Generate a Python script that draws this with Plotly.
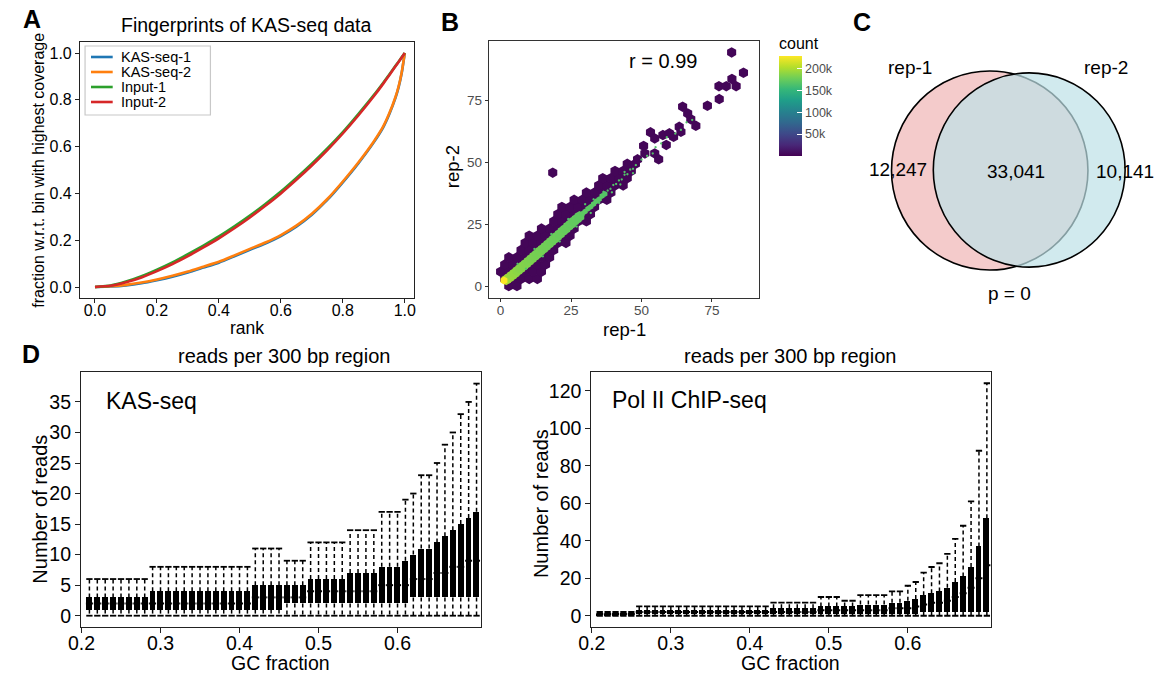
import math
import plotly.graph_objects as go

W, H = 1162, 674
FONT = "Liberation Sans, Arial, sans-serif"


def px_x(p):
    return p / W


def px_y(p):
    return 1 - p / H


# ---------------- Panel A : fingerprint curves ----------------
rank = [0.0, 0.05, 0.1, 0.15, 0.2, 0.25, 0.3, 0.35, 0.4, 0.45, 0.5, 0.55, 0.6, 0.65,
        0.7, 0.75, 0.8, 0.85, 0.9, 0.93, 0.95, 0.97, 0.98, 0.99, 1.0]
kas_seq_1 = [0.0, 0.002, 0.007, 0.016, 0.029, 0.044, 0.062, 0.083, 0.104, 0.131, 0.159, 0.186, 0.218,
             0.258, 0.309, 0.372, 0.447, 0.528, 0.618, 0.681, 0.738, 0.808, 0.853, 0.913, 1.0]
kas_seq_2 = [0.0, 0.003, 0.009, 0.019, 0.032, 0.048, 0.066, 0.087, 0.108, 0.135, 0.163, 0.19, 0.222,
             0.262, 0.313, 0.376, 0.451, 0.532, 0.622, 0.685, 0.742, 0.812, 0.857, 0.917, 1.0]
input_1 = [0.0, 0.006, 0.023, 0.046, 0.074, 0.105, 0.14, 0.177, 0.216, 0.259, 0.305, 0.355, 0.408,
           0.466, 0.527, 0.592, 0.662, 0.739, 0.82, 0.872, 0.908, 0.945, 0.963, 0.982, 1.0]
input_2 = [0.0, 0.005, 0.02, 0.041, 0.068, 0.098, 0.132, 0.169, 0.208, 0.251, 0.297, 0.347, 0.4,
           0.458, 0.519, 0.585, 0.656, 0.733, 0.815, 0.868, 0.905, 0.943, 0.962, 0.981, 1.0]
fp_names = ["KAS-seq-1", "KAS-seq-2", "Input-1", "Input-2"]
fp_colors = ["#1f77b4", "#ff7f0e", "#2ca02c", "#d62728"]

# ---------------- Panel B : hexbin rep-1 vs rep-2 ----------------
hex_rep1 = [2.9, 5.8,
            1.45, 4.35, 7.25, 10.15, 13.05,
            0, 2.9, 5.8, 8.7, 11.6, 14.5,
            1.45, 4.35, 7.25, 10.15, 13.05, 15.95,
            2.9, 5.8, 8.7, 11.6, 14.5, 17.4,
            7.25, 10.15, 13.05, 15.95, 18.85,
            8.7, 11.6, 14.5, 17.4, 20.3, 23.2,
            10.15, 13.05, 15.95, 18.85, 21.75, 24.65,
            14.5, 17.4, 20.3, 23.2, 26.1,
            18.85, 21.75, 24.65, 27.55, 30.45,
            20.3, 23.2, 26.1, 29.0, 31.9,
            21.75, 24.65, 27.55, 30.45, 33.35,
            26.1, 29.0, 31.9, 34.8, 37.7,
            30.45, 33.35, 36.25, 39.15,
            34.8, 37.7, 40.6, 43.5,
            36.25, 39.15, 42.05, 44.95,
            18.5, 40.6, 43.5, 46.4,
            44.95, 47.85,
            48.6, 51.2, 54.7, 56.1,
            50.75, 58.8,
            53.2, 54.7, 57.6, 59.9, 61.4,
            63.4, 64.0, 69.3,
            67.5, 66.4, 64.6, 73.4, 77.6,
            77.5, 80.1, 83.6, 82.1, 86.2, 82.0]
hex_rep2 = [0, 0,
            2.9, 2.9, 2.9, 2.9, 2.9,
            5.8, 5.8, 5.8, 5.8, 5.8, 5.8,
            8.7, 8.7, 8.7, 8.7, 8.7, 8.7,
            11.6, 11.6, 11.6, 11.6, 11.6, 11.6,
            14.5, 14.5, 14.5, 14.5, 14.5,
            17.4, 17.4, 17.4, 17.4, 17.4, 17.4,
            20.3, 20.3, 20.3, 20.3, 20.3, 20.3,
            23.2, 23.2, 23.2, 23.2, 23.2,
            26.1, 26.1, 26.1, 26.1, 26.1,
            29.0, 29.0, 29.0, 29.0, 29.0,
            31.9, 31.9, 31.9, 31.9, 31.9,
            34.8, 34.8, 34.8, 34.8, 34.8,
            37.7, 37.7, 37.7, 37.7,
            40.6, 40.6, 40.6, 40.6,
            43.5, 43.5, 43.5, 43.5,
            45.7, 46.4, 46.4, 46.4,
            49.3, 49.3,
            51.1, 53.5, 53.5, 51.1,
            56.5, 56.9,
            62.0, 59.5, 60.9, 61.6, 60.2,
            64.2, 62.2, 64.6,
            67.3, 69.6, 72.3, 72.7, 75.4,
            80.6, 80.6, 80.6, 83.5, 86.0, 94.2]
hex_count = [3000] * len(hex_rep1)

core_rep1 = [2, 3, 4, 5, 6, 7, 8, 9, 10, 11, 12, 13, 14, 15, 16, 17, 18, 19, 20, 21, 22, 23, 24, 25, 26, 27, 28]
core_rep2 = [2.6, 3.4, 4.3, 5.2, 6.2, 7.1, 8.1, 9.0, 10.0, 11.0, 12.0, 12.9, 14.0, 15.0, 16.0, 17.0,
             18.0, 19.0, 20.0, 21.0, 22.1, 23.0, 24.1, 25.0, 26.1, 27.0, 28.1]
core_count = [200000, 195000, 192000, 190000, 188000, 186000, 185000, 184000, 183000, 182000,
              181000, 180000, 180000, 179000, 178000, 178000, 177000, 176000, 176000, 175000,
              175000, 174000, 174000, 173000, 172000, 172000, 171000]

mid_rep1 = [29, 30, 31, 32, 33, 34, 35, 36, 37]
mid_rep2 = [29.2, 30.1, 31.2, 32.0, 33.1, 34.2, 35.0, 36.3, 37.1]
mid_count = [170000, 170000, 169000, 169000, 168000, 168000, 167000, 167000, 166000]

speck_rep1 = [38, 39, 40, 41, 42, 43, 44, 45, 46, 47, 48, 36.5, 39.5, 42.5, 44, 50, 52, 54, 57, 59,
              62, 64, 66, 68, 55, 47, 33, 35, 6, 9, 12, 15, 18, 21, 24, 27, 30, 32]
speck_rep2 = [38.5, 39.2, 40.8, 41.2, 42.6, 43.0, 44.9, 45.1, 47.0, 47.3, 48.8, 38, 37.8, 41, 46, 51,
              52.5, 53.5, 57.5, 60, 61.5, 63, 66, 67, 56, 45.5, 35, 33.5, 9, 7, 15, 12, 21, 18,
              27, 24, 33, 29.5]
speck_count = [165000] * len(speck_rep1)

peak_rep1 = [1.2]
peak_rep2 = [2.3]
peak_count = [228000]

r_value = 0.99

# ---------------- Panel C : Venn ----------------
venn_labels = ["rep-1", "rep-2"]
only_rep1 = 12247
both_reps = 33041
only_rep2 = 10141
venn_p = 0

# ---------------- Panel D : GC boxplots ----------------
gc = [0.21, 0.22, 0.23, 0.24, 0.25, 0.26, 0.27, 0.28, 0.29, 0.30,
      0.31, 0.32, 0.33, 0.34, 0.35, 0.36, 0.37, 0.38, 0.39, 0.40,
      0.41, 0.42, 0.43, 0.44, 0.45, 0.46, 0.47, 0.48, 0.49, 0.50,
      0.51, 0.52, 0.53, 0.54, 0.55, 0.56, 0.57, 0.58, 0.59, 0.60,
      0.61, 0.62, 0.63, 0.64, 0.65, 0.66, 0.67, 0.68, 0.69, 0.70]

kas_lower = [0, 0, 0, 0, 0, 0, 0, 0, 0, 0, 0, 0, 0, 0, 0, 0, 0, 0, 0, 0, 0, 0, 0, 0, 0,
             0, 0, 0, 0, 0, 0, 0, 0, 0, 0, 0, 0, 0, 0, 0, 0, 0, 0, 0, 0, 0, 0, 0, 0, 0]
kas_q1 = [1, 1, 1, 1, 1, 1, 1, 1, 1, 1, 1, 1, 1, 1, 1, 1, 1, 1, 1, 1, 1, 1, 1, 1, 1,
          2, 2, 2, 2, 2, 2, 2, 2, 2, 2, 2, 2, 2, 2, 2, 2, 3, 3, 3, 3, 3, 3, 3, 3, 3]
kas_median = [2, 2, 2, 2, 2, 2, 2, 2, 2, 2, 2, 2, 2, 2, 2, 2, 2, 2, 2, 2, 2, 3, 3, 3, 3,
              3, 3, 3, 4, 4, 4, 4, 4, 4, 4, 4, 4, 5, 5, 5, 5, 6, 6, 6, 7, 7, 8, 8, 9, 9]
kas_q3 = [3, 3, 3, 3, 3, 3, 3, 3, 4, 4, 4, 4, 4, 4, 4, 4, 4, 4, 4, 4, 4, 5, 5, 5, 5,
          5, 5, 5, 6, 6, 6, 6, 6, 7, 7, 7, 7, 8, 8, 8, 9, 10, 11, 11, 12, 13, 14, 15, 16, 17]
kas_upper = [6, 6, 6, 6, 6, 6, 6, 6, 8, 8, 8, 8, 8, 8, 8, 8, 8, 8, 8, 8, 8, 11, 11, 11, 11,
             9, 9, 9, 12, 12, 12, 12, 12, 14, 14, 14, 14, 17, 17, 17, 19, 20, 23, 23, 25, 28, 30, 33, 35, 38]

pol_lower = [0, 0, 0, 0, 0, 0, 0, 0, 0, 0, 0, 0, 0, 0, 0, 0, 0, 0, 0, 0, 0, 0, 0, 0, 0,
             0, 0, 0, 0, 0, 0, 0, 0, 0, 0, 0, 0, 0, 0, 0, 0, 0, 0, 0, 0, 0, 0, 0, 0, 0]
pol_q1 = [0, 0, 0, 0, 0, 1, 1, 1, 1, 1, 1, 1, 1, 1, 1, 1, 1, 1, 1, 1, 1, 1, 1, 1, 1,
          1, 1, 1, 1, 1, 1, 1, 1, 1, 1, 1, 1, 1, 1, 1, 1, 2, 2, 2, 2, 2, 2, 2, 2, 2]
pol_median = [1, 1, 1, 1, 1, 2, 2, 2, 2, 2, 2, 2, 2, 2, 2, 2, 2, 2, 2, 2, 2, 2, 2, 2, 2,
              2, 2, 2, 3, 3, 3, 3, 3, 3, 3, 3, 3, 4, 4, 4, 5, 6, 7, 7, 8, 10, 12, 15, 20, 27]
pol_q3 = [1, 1, 1, 1, 1, 3, 3, 3, 3, 3, 3, 3, 3, 3, 3, 3, 3, 3, 3, 3, 3, 3, 4, 4, 4,
          4, 4, 4, 5, 5, 5, 5, 5, 6, 6, 6, 6, 7, 7, 8, 9, 11, 12, 13, 15, 18, 21, 26, 37, 52]
pol_upper = [2, 2, 2, 2, 2, 5, 5, 5, 5, 5, 5, 5, 5, 5, 5, 5, 5, 5, 5, 5, 5, 5, 7, 7, 7,
             7, 7, 7, 10, 10, 10, 8, 8, 11, 11, 11, 11, 13, 13, 16, 18, 23, 26, 28, 33, 41, 48, 61, 88, 124]

fig = go.Figure()

# ---- Panel A traces
for name, col, vals in zip(fp_names, fp_colors, [kas_seq_1, kas_seq_2, input_1, input_2]):
    fig.add_trace(go.Scatter(x=rank, y=vals, mode="lines", name=name,
                             line=dict(color=col, width=2.6, shape="spline", smoothing=0.5),
                             xaxis="x", yaxis="y", showlegend=False, hoverinfo="skip"))

# ---- Panel B traces
for xs, ys, cs, sz in [(hex_rep1, hex_rep2, hex_count, 10.5),
                       (core_rep1, core_rep2, core_count, 11),
                       (mid_rep1, mid_rep2, mid_count, 6),
                       (speck_rep1, speck_rep2, speck_count, 2.5),
                       (peak_rep1, peak_rep2, peak_count, 8)]:
    fig.add_trace(go.Scatter(x=xs, y=ys, mode="markers",
                             marker=dict(symbol="hexagon", size=sz, color=cs,
                                         coloraxis="coloraxis", line=dict(width=0)),
                             xaxis="x2", yaxis="y2", showlegend=False))


# ---- Panel D traces
def add_boxes(xa, ya, q1, med, q3, lo, hi):
    fig.add_trace(go.Bar(x=gc, y=[b - a for a, b in zip(q1, q3)], base=q1, width=0.0075,
                         marker=dict(color="black", line=dict(width=0)),
                         xaxis=xa, yaxis=ya, showlegend=False))
    wx, wy = [], []
    for x, a, b, c, d in zip(gc, q1, q3, lo, hi):
        wx += [x, x, None, x, x, None]
        wy += [b, d, None, a, c, None]
    fig.add_trace(go.Scatter(x=wx, y=wy, mode="lines",
                             line=dict(color="black", width=1.5, dash="4px,3px"),
                             xaxis=xa, yaxis=ya, showlegend=False, hoverinfo="skip"))
    fig.add_trace(go.Scatter(x=gc + gc, y=hi + lo, mode="markers",
                             marker=dict(symbol="line-ew", size=4.5, color="black",
                                         line=dict(color="black", width=1.8)),
                             xaxis=xa, yaxis=ya, showlegend=False, hoverinfo="skip"))
    fig.add_trace(go.Scatter(x=gc, y=med, mode="markers",
                             marker=dict(symbol="line-ew", size=5, color="black",
                                         line=dict(color="black", width=2)),
                             xaxis=xa, yaxis=ya, showlegend=False, hoverinfo="skip"))


add_boxes("x3", "y3", kas_q1, kas_median, kas_q3, kas_lower, kas_upper)
add_boxes("x4", "y4", pol_q1, pol_median, pol_q3, pol_lower, pol_upper)

# ---------------- Layout ----------------
black_axis = dict(showline=True, mirror=True, linecolor="#222222", linewidth=1.3,
                  ticks="outside", ticklen=4, tickcolor="#222222", showgrid=False,
                  zeroline=False, tickfont=dict(size=16, color="black"))
d_axis = {**black_axis, "tickfont": dict(size=19.5, color="black"), "ticklen": 5}

fig.update_layout(
    width=W, height=H, margin=dict(l=0, r=0, t=0, b=0),
    paper_bgcolor="white", plot_bgcolor="white",
    font=dict(family=FONT, color="black"),
    showlegend=False, bargap=0,
    xaxis=dict(domain=[px_x(68), px_x(406)], range=[-0.048, 1.029],
               tickvals=[0, 0.2, 0.4, 0.6, 0.8, 1.0], tickformat=".1f", anchor="y",
               ticklabelstandoff=-6, **black_axis),
    yaxis=dict(domain=[px_y(298), px_y(42)], range=[-0.047, 1.047],
               tickvals=[0, 0.2, 0.4, 0.6, 0.8, 1.0], tickformat=".1f", anchor="x", **black_axis),
    xaxis2=dict(domain=[px_x(482), px_x(756)], range=[-4.2, 91.8], tickvals=[0, 25, 50, 75],
                anchor="y2", showline=True, mirror=True, linecolor="#333333", linewidth=1.1,
                ticks="outside", ticklen=3, tickcolor="#333333", showgrid=False, zeroline=False,
                ticklabelstandoff=-3, tickfont=dict(size=13.5, color="#4d4d4d")),
    yaxis2=dict(domain=[px_y(298), px_y(41)], range=[-4.8, 98.8], tickvals=[0, 25, 50, 75],
                anchor="x2", showline=True, mirror=True, linecolor="#333333", linewidth=1.1,
                ticks="outside", ticklen=3, tickcolor="#333333", showgrid=False, zeroline=False,
                tickfont=dict(size=13.5, color="#4d4d4d")),
    xaxis3=dict(domain=[px_x(69), px_x(474)], range=[0.1995, 0.7055],
                tickvals=[0.2, 0.3, 0.4, 0.5, 0.6], tickformat=".1f", anchor="y3",
                ticklabelstandoff=-7, **d_axis),
    yaxis3=dict(domain=[px_y(627), px_y(372)], range=[-1.85, 39.9],
                tickvals=[0, 5, 10, 15, 20, 25, 30, 35], anchor="x3", **d_axis),
    xaxis4=dict(domain=[px_x(586), px_x(991)], range=[0.1995, 0.7055],
                tickvals=[0.2, 0.3, 0.4, 0.5, 0.6], tickformat=".1f", anchor="y4",
                ticklabelstandoff=-7, **d_axis),
    yaxis4=dict(domain=[px_y(627), px_y(372)], range=[-6, 130],
                tickvals=[0, 20, 40, 60, 80, 100, 120], anchor="x4", **d_axis),
    coloraxis=dict(
        colorscale="Viridis", cmin=0, cmax=228000,
        colorbar=dict(title=dict(text="count", side="top", font=dict(size=16, color="black")),
                      x=px_x(774), xanchor="left", y=px_y(34), yanchor="top",
                      len=122, lenmode="pixels", thickness=23, thicknessmode="pixels",
                      tickvals=[50000, 100000, 150000, 200000],
                      ticktext=["50k", "100k", "150k", "200k"],
                      ticks="inside", ticklen=5, tickcolor="white",
                      tickfont=dict(size=12.5, color="#4d4d4d"),
                      outlinewidth=0, xpad=2, ypad=0)),
)

shapes = []
annotations = []

# manual legend for panel A
shapes.append(dict(type="rect", xref="paper", yref="paper",
                   x0=px_x(73), x1=px_x(200), y0=px_y(115), y1=px_y(46),
                   line=dict(color="#c8c8c8", width=1.2), fillcolor="rgba(255,255,255,0.85)"))
leg_y = [57.0, 72.0, 87.0, 102.0]
for name, col, yy in zip(fp_names, fp_colors, leg_y):
    shapes.append(dict(type="line", xref="paper", yref="paper",
                       x0=px_x(79), x1=px_x(101), y0=px_y(yy), y1=px_y(yy),
                       line=dict(color=col, width=2.6)))
    annotations.append(dict(text=name, x=px_x(107), y=px_y(yy), xref="paper", yref="paper",
                            xanchor="left", yanchor="middle", showarrow=False,
                            font=dict(size=14.5, color="black")))

# Venn circles (area proportional to set sizes)
scale = 0.4676
r1 = scale * math.sqrt(only_rep1 + both_reps)
r2 = scale * math.sqrt(only_rep2 + both_reps)
c1 = (989.5, 170.5)
c2 = (1029.5, 170.0)
shapes.append(dict(type="circle", xref="paper", yref="paper",
                   x0=px_x(c1[0] - r1), x1=px_x(c1[0] + r1),
                   y0=px_y(c1[1] + r1), y1=px_y(c1[1] - r1),
                   fillcolor="#F4CBCB", line=dict(color="black", width=1.6)))
shapes.append(dict(type="circle", xref="paper", yref="paper",
                   x0=px_x(c2[0] - r2), x1=px_x(c2[0] + r2),
                   y0=px_y(c2[1] + r2), y1=px_y(c2[1] - r2),
                   fillcolor="rgba(189,225,231,0.7)", line=dict(color="black", width=1.6)))


def ann(text, x, y, size, angle=0, xanchor="center", bold=False, color="black"):
    annotations.append(dict(text=("<b>%s</b>" % text) if bold else text,
                            x=px_x(x), y=px_y(y), xref="paper", yref="paper",
                            xanchor=xanchor, yanchor="middle", showarrow=False,
                            textangle=angle, font=dict(size=size, color=color)))


# panel letters
ann("A", 19, 19, 25, bold=True)
ann("B", 443, 22, 25, bold=True)
ann("C", 860, 22, 25, bold=True)
ann("D", 18, 354, 25, bold=True)

# panel A texts
ann("Fingerprints of KAS-seq data", 237, 25, 19.5)
ann("fraction w.r.t. bin with highest coverage", 26, 170, 16, angle=-90)
ann("rank", 237, 328, 17.5)

# panel B texts
ann("rep-2", 445, 167, 18.5, angle=-90)
ann("rep-1", 620, 329, 18.5)
ann("r = %.2f" % r_value, 658, 61, 20)

# panel C texts
ann(venn_labels[0], 909, 67, 19)
ann(venn_labels[1], 1107, 67, 19)
ann(f"{only_rep1:,}", 897, 170, 19)
ann(f"{both_reps:,}", 1016, 172, 19)
ann(f"{only_rep2:,}", 1127, 172, 19)
ann(f"p = {venn_p}", 1010, 293, 19)

# panel D texts
ann("reads per 300 bp region", 275, 356, 20)
ann("reads per 300 bp region", 787, 356, 20)
ann("Number of reads", 27, 509, 20, angle=-90)
ann("Number of reads", 535, 504, 20, angle=-90)
ann("GC fraction", 271, 663, 19.5)
ann("GC fraction", 788, 663, 19.5)
ann("KAS-seq", 92, 401, 23, xanchor="left")
ann("Pol II ChIP-seq", 605, 400, 23, xanchor="left")

fig.update_layout(shapes=shapes, annotations=annotations)
fig.write_html("out.html")
